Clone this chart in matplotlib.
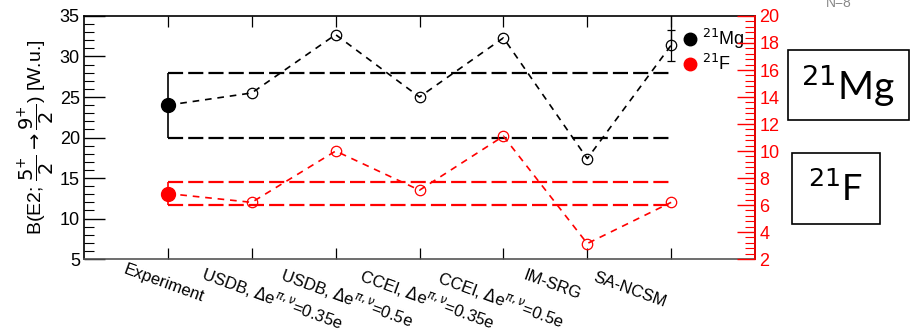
import numpy as np
import matplotlib
matplotlib.use("Agg")
import matplotlib.pyplot as plt
from matplotlib.patches import Rectangle
from matplotlib.lines import Line2D

plt.rcParams['font.family'] = ['Liberation Sans', 'DejaVu Sans']

models = ['Experiment',
          'USDB, $\\Delta$e$^{\\pi,\\nu}$=0.35e',
          'USDB, $\\Delta$e$^{\\pi,\\nu}$=0.5e',
          'CCEI, $\\Delta$e$^{\\pi,\\nu}$=0.35e',
          'CCEI, $\\Delta$e$^{\\pi,\\nu}$=0.5e',
          'IM-SRG',
          'SA-NCSM']

# B(E2) values in W.u.; index 0 is experiment
mg21 = [24.0, 25.5, 32.7, 25.0, 32.3, 17.4, 31.4]
f21 = [6.85, 6.2, 10.0, 7.1, 11.1, 3.15, 6.2]
mg21_exp_err = 4.0
f21_exp_err = 0.85
mg21_ncsm_err = 1.9

# label start offsets from each tick, in pixels
label_dx = [-41, -46, -51, -56, -62, -61, -75]

x = np.arange(1, len(models) + 1)

fig = plt.figure(figsize=(9.1, 3.33), dpi=100)
ax = fig.add_axes([0.0923, 0.222, 0.7374, 0.730])
ax2 = ax.twinx()

long_dash = (0, (6.8, 2.3))
short_dash = (0, (4.0, 3.5))

# 21Mg on the left axis
for band in (mg21[0] + mg21_exp_err, mg21[0] - mg21_exp_err):
    ax.plot([x[0], x[-1]], [band, band], color='k', lw=1.6, linestyle=long_dash)
ax.plot(x, mg21, color='k', lw=1.2, linestyle=short_dash)
ax.plot(x[1:], mg21[1:], 'o', mfc='none', mec='k', ms=7.5, mew=0.9)
ax.errorbar(x[0], mg21[0], yerr=mg21_exp_err, fmt='o', color='k', ms=10,
            elinewidth=1.2, capsize=0)
ax.errorbar(x[-1], mg21[-1], yerr=mg21_ncsm_err, fmt='none', ecolor='k',
            elinewidth=0.9, capsize=3, capthick=0.9)
ax.errorbar(x[-1], mg21[-1], yerr=[[0], [5.0]], fmt='none', ecolor='k',
            elinewidth=0.9, capsize=0)

# 21F on the right axis
for band in (f21[0] + f21_exp_err, f21[0] - f21_exp_err):
    ax2.plot([x[0], x[-1]], [band, band], color='red', lw=1.6, linestyle=long_dash)
ax2.plot(x, f21, color='red', lw=1.2, linestyle=short_dash)
ax2.plot(x[1:], f21[1:], 'o', mfc='none', mec='red', ms=7.5, mew=0.9)
ax2.errorbar(x[0], f21[0], yerr=f21_exp_err, fmt='o', color='red', ms=10,
             elinewidth=1.2, capsize=0)

ax.set_xlim(0, 8)
ax.set_ylim(5, 35)
ax2.set_ylim(2, 20)

ax.set_xticks(x)
ax.tick_params(axis='x', labelbottom=False)
for i, (xi, name) in enumerate(zip(x, models)):
    ax.annotate(name, xy=(xi, 0), xycoords=('data', 'axes fraction'),
                xytext=(label_dx[i] * 0.72, -(3 + 1.2 * i) * 0.72),
                textcoords='offset points', rotation=-20,
                rotation_mode='anchor', ha='left', va='top', fontsize=12)

ax.set_yticks(np.arange(5, 36, 5))
ax.set_yticks(np.arange(5, 36, 1), minor=True)
ax2.set_yticks(np.arange(2, 21, 2))
ax2.set_yticks(np.arange(2, 20.01, 0.4), minor=True)

ax.tick_params(axis='x', which='both', direction='in', top=True, length=8,
               width=0.9)
ax.tick_params(axis='y', which='major', direction='in', length=15, width=1.0,
               labelsize=13, pad=3)
ax.tick_params(axis='y', which='minor', direction='in', length=7, width=0.8)
ax2.tick_params(axis='y', which='major', direction='in', length=13, width=1.0,
                colors='red', labelsize=13, pad=3)
ax2.tick_params(axis='y', which='minor', direction='in', length=7, width=0.8,
                colors='red')

for sp in ax.spines.values():
    sp.set_linewidth(1.2)
ax.spines['bottom'].set_color('#555555')
ax2.spines['right'].set_color('red')
ax2.spines['right'].set_linewidth(1.2)
ax2.spines['left'].set_visible(False)
ax2.spines['top'].set_visible(False)
ax2.spines['bottom'].set_visible(False)

ax.set_ylabel(r'B(E2; $\dfrac{5^{+}}{2}\rightarrow\dfrac{9^{+}}{2}$) [W.u.]',
              fontsize=14, labelpad=2)

handles = [Line2D([], [], marker='o', ls='none', color='k', ms=9),
           Line2D([], [], marker='o', ls='none', color='red', ms=9)]
ax.legend(handles, ['$^{21}$Mg', '$^{21}$F'], loc='upper left',
          bbox_to_anchor=(0.892, 0.955), frameon=False, fontsize=13,
          handlelength=0.8, handletextpad=0.3, labelspacing=0.15,
          borderpad=0, borderaxespad=0)

# nucleus tags on the right
fig.add_artist(Rectangle((0.866, 0.640), 0.133, 0.210, transform=fig.transFigure,
                         fill=False, lw=1.2, ec='k'))
fig.text(0.932, 0.742, '$^{21}$Mg', fontsize=28, family='Lato',
         ha='center', va='center')
fig.add_artist(Rectangle((0.870, 0.327), 0.0967, 0.213, transform=fig.transFigure,
                         fill=False, lw=1.2, ec='k'))
fig.text(0.918, 0.432, '$^{21}$F', fontsize=26, family='Lato',
         ha='center', va='center')

fig.text(0.922, 0.979, 'N=8', fontsize=10, color='#888888', ha='center',
         va='baseline')

fig.savefig('out.png', dpi=100)
